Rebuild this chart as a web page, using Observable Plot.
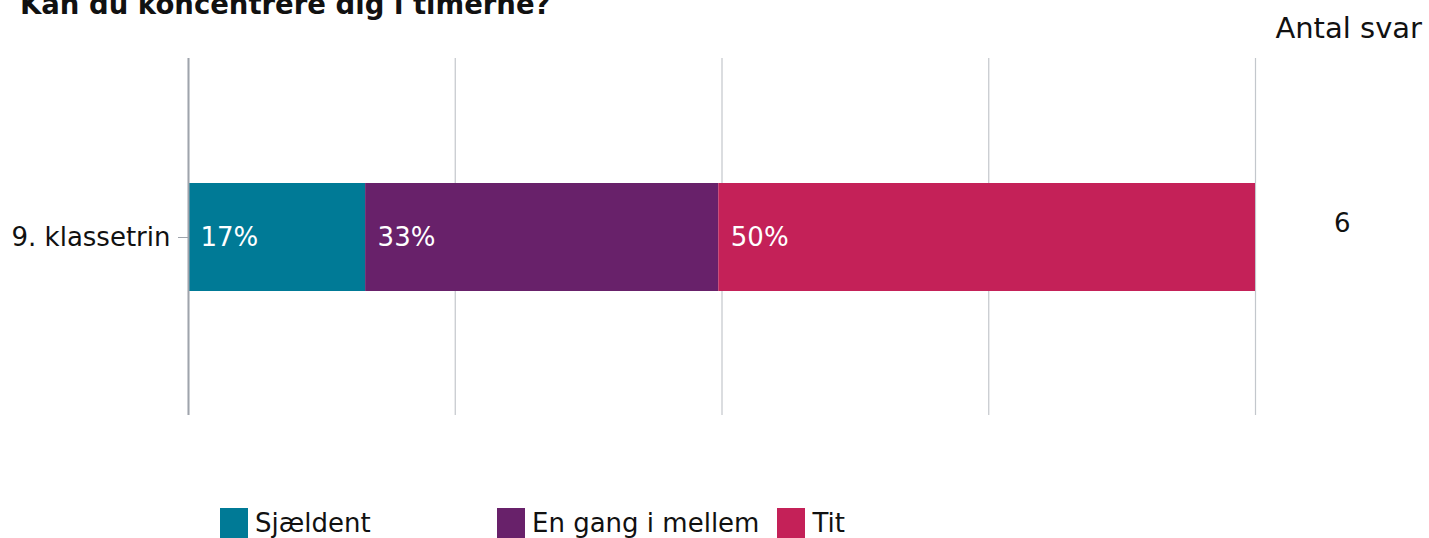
<!DOCTYPE html>
<html>
<head>
<meta charset="utf-8">
<script src="https://cdn.jsdelivr.net/npm/d3@7"></script>
<script src="https://cdn.jsdelivr.net/npm/@observablehq/plot@0.6"></script>
<style>
  body { margin: 0; background: #fff; font-family: "DejaVu Sans", Verdana, sans-serif; color: #111; overflow: hidden; }
  #wrap { position: relative; width: 1429px; height: 538px; overflow: hidden; }
  #title { position: absolute; left: 20px; top: -9px; font-size: 27.5px; font-weight: bold; line-height: 1; white-space: nowrap; }
  #antal { position: absolute; right: 7px; top: 14px; font-size: 29px; line-height: 1; white-space: nowrap; }
  #chart { position: absolute; left: 0; top: 0; }
  #legend { position: absolute; left: 220px; top: 508px; display: flex; gap: 18px; }
  .item { display: flex; min-width: 259px; align-items: flex-start; }
  .sw { width: 28px; height: 30px; margin-right: 7px; flex: none; }
  .lab { font-size: 26px; line-height: 30px; white-space: nowrap; }
</style>
</head>
<body>
<div id="wrap">
  <div id="chart"></div>
  <div id="title"></div>
  <div id="antal"></div>
  <div id="legend"></div>
</div>
<script>
const titleText = "Kan du koncentrere dig i timerne?";
const countHeader = "Antal svar";
const groups = ["9. klassetrin"];
const categories = ["Sjældent", "En gang i mellem", "Tit"];
const values = [16.6, 33.1, 50.3];
const labels = ["17%", "33%", "50%"];
const counts = [6];
const colors = ["#007a96", "#68216a", "#c42158"];
const gridTicks = [0, 25, 50, 75, 100];

const data = categories.map((c, i) => ({group: groups[0], category: c, value: values[i], label: labels[i]}));
const countData = groups.map((g, i) => ({group: g, n: counts[i]}));

document.getElementById("title").textContent = titleText;
document.getElementById("antal").textContent = countHeader;

const plot = Plot.plot({
  width: 1429,
  height: 470,
  marginTop: 58,
  marginBottom: 55,
  marginLeft: 188,
  marginRight: 174,
  style: {fontFamily: "DejaVu Sans, Verdana, sans-serif", fontSize: "26px", color: "#111"},
  x: {domain: [0, 100], axis: null},
  y: {domain: groups, padding: 0.5355, label: null, axis: null},
  color: {domain: categories, range: colors},
  marks: [
    Plot.gridX(gridTicks, {stroke: "#c3c7cc", strokeOpacity: 1, strokeWidth: 1.2}),
    Plot.barX(data, Plot.stackX({x: "value", y: "group", z: "category", fill: "category"})),
    Plot.ruleX([0], {stroke: "#9fa4ac", strokeWidth: 2}),
    Plot.text(data, Plot.stackX1({x: "value", y: "group", z: "category", text: "label", textAnchor: "start", dx: 12, fill: "white", fontSize: 26})),
    Plot.text(countData, {y: "group", text: d => String(d.n), frameAnchor: "right", dx: 95, dy: -14, fill: "#111", fontSize: 26}),
    Plot.axisY({tickSize: 10, tickPadding: 8, stroke: "#9fa4ac", fontSize: 26, fill: "#111", label: null})
  ]
});
document.getElementById("chart").appendChild(plot);

const legend = document.getElementById("legend");
categories.forEach((c, i) => {
  const item = document.createElement("div");
  item.className = "item";
  const sw = document.createElement("div");
  sw.className = "sw";
  sw.style.background = colors[i];
  const lab = document.createElement("div");
  lab.className = "lab";
  lab.textContent = c;
  item.appendChild(sw);
  item.appendChild(lab);
  legend.appendChild(item);
});
</script>
</body>
</html>
